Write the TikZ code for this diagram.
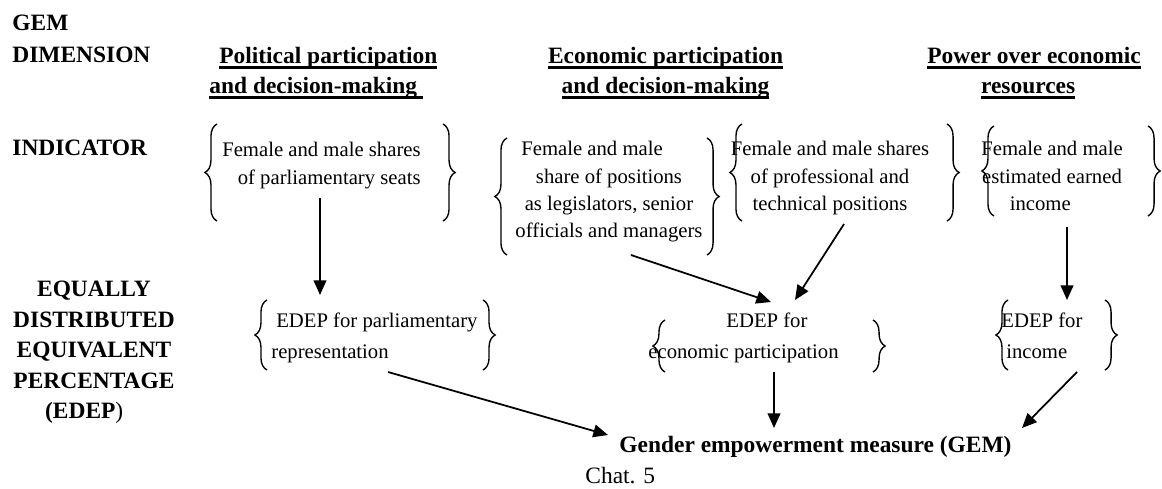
\documentclass[tikz,border=0pt]{standalone}
\usepackage{fontspec}
\setmainfont{Liberation Serif}
\usetikzlibrary{arrows.meta,decorations.pathreplacing}
\newcommand\myul[1]{\setbox0\hbox{#1}\rlap{\vrule width\wd0 height -1.4pt depth 2.5pt}\box0}
\begin{document}
\begin{tikzpicture}[x=0.512pt,y=-0.512pt,
  txt/.style={inner sep=0pt, font=\fontsize{10.6}{14}\selectfont},
  txtw/.style={inner sep=0pt, font=\fontsize{10.6}{15.4}\selectfont},
  hd/.style={inner sep=0pt, font=\fontsize{12}{15.4}\selectfont\bfseries},
  lab/.style={inner sep=0pt, font=\fontsize{12}{15.6}\selectfont\bfseries},
  brc/.style={decorate, decoration={brace, amplitude=6.2pt}, line width=0.7pt},
  arr/.style={-{Triangle[length=7.5pt,width=6.5pt]}, line width=0.9pt}]
\fill[white] (0,0) rectangle (1162,488);
\useasboundingbox (0,0) rectangle (1162,488);

% row labels
\node[lab, anchor=base west] (gem) at (12,30) {GEM};
\node[lab, anchor=base west] (dim) at (12,62) {DIMENSION};
\node[lab, anchor=base west] (ind) at (12,155) {INDICATOR};
\node[lab, anchor=north, align=center] (edl) at (94,281)
  {EQUALLY\\DISTRIBUTED\\EQUIVALENT\\PERCENTAGE\\(EDEP\textmd{)}\hspace*{10pt}};

% dimension headers
\node[hd, anchor=north west, align=left] (h1) at (209,47) {\hspace*{5.1pt}\myul{Political participation}\\\myul{and decision-making\ }};
\node[hd, anchor=north, align=center] (h2) at (665.5,47) {\myul{Economic participation}\\\myul{and decision-making}};
\node[hd, anchor=north, align=center] (h3) at (1034,47) {\myul{Power over economic}\\\myul{resources}\hspace*{6pt}};

% indicators
\node[txt, anchor=north east, align=right] (i1) at (421,142) {Female and male shares\\of parliamentary seats};
\node[txt, anchor=north, align=center] (i2) at (609,141) {Female and male\hspace*{17.4pt}\\share of positions\\as legislators, senior\\officials and managers};
\node[txt, anchor=north, align=center] (i3) at (830,141) {Female and male shares\\of professional and\\technical positions};
\node[txt, anchor=north, align=center] (i4) at (1052,141) {Female and male\\estimated earned\\income\hspace*{12pt}};

% EDEP
\node[txtw, anchor=north west, align=left] (e1) at (271,313) {\hspace*{2.5pt}EDEP for parliamentary\\representation};
\node[txtw, anchor=north, align=center] (e2) at (743.5,313) {\hspace*{24pt}EDEP for\\economic participation};
\node[txtw, anchor=north west, align=left] (e3) at (1001,313) {EDEP for\\\hspace*{2.5pt}income};

% GEM
\node[inner sep=0pt, font=\fontsize{12}{14}\selectfont\bfseries, anchor=base west] (g) at (619,452) {Gender empowerment measure (GEM)};
\node[inner sep=0pt, font=\fontsize{12}{14}\selectfont, anchor=base west] (chat) at (585,483) {Chat. 5};

% braces
\draw[brc] (217,221) -- (217,124);
\draw[brc] (443,124) -- (443,221);
\draw[brc] (507,255) -- (507,138);
\draw[brc] (707,138) -- (707,255);
\draw[brc] (742,221) -- (742,124);
\draw[brc] (947,124) -- (947,221);
\draw[brc] (994,216) -- (994,126);
\draw[brc] (1148,126) -- (1148,216);
\draw[brc] (267,370) -- (267,300);
\draw[brc] (483,300) -- (483,370);
\draw[brc] (665,372) -- (665,320);
\draw[brc] (873,320) -- (873,372);
\draw[brc] (1008,370) -- (1008,300);
\draw[brc] (1105,300) -- (1105,370);

% connector ends
\coordinate (a1s) at (320,198);  \coordinate (a1e) at (320,295);
\coordinate (a2s) at (631,255);  \coordinate (a2e) at (771,302);
\coordinate (a3s) at (844,224);  \coordinate (a3e) at (795,300);
\coordinate (a4s) at (1067,227); \coordinate (a4e) at (1067,300);
\coordinate (a5s) at (388,372);  \coordinate (a5e) at (608,435);
\coordinate (a6s) at (774,372);  \coordinate (a6e) at (774,428);
\coordinate (a7s) at (1077,372); \coordinate (a7e) at (1022,428);

\draw[arr] (a1s) -- (a1e);
\draw[arr] (a2s) -- (a2e);
\draw[arr] (a3s) -- (a3e);
\draw[arr] (a4s) -- (a4e);
\draw[arr] (a5s) -- (a5e);
\draw[arr] (a6s) -- (a6e);
\draw[arr] (a7s) -- (a7e);
\end{tikzpicture}
\end{document}
